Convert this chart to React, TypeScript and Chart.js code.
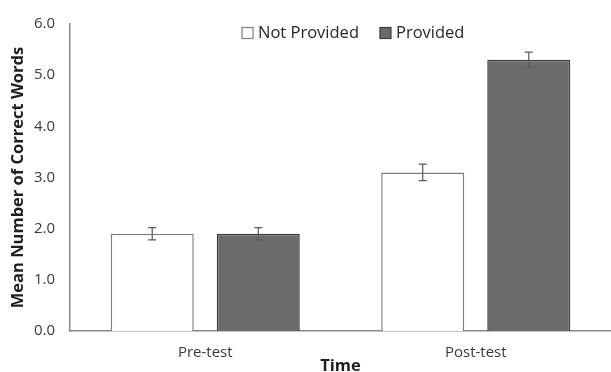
import React, { useEffect, useRef } from "react";
import { Chart, registerables } from "chart.js";

Chart.register(...registerables);

const categories = ["Pre-test", "Post-test"];
const seriesNames = ["Not Provided", "Provided"];
const notProvided = [1.9, 3.1];
const provided = [1.9, 5.3];
const notProvidedErr = [0.12, 0.16];
const providedErr = [0.12, 0.15];
const yTicks = [0, 1, 2, 3, 4, 5, 6];

const FONT = "'Open Sans', 'Noto Sans', sans-serif";

const errorBarPlugin = {
  id: "errorBars",
  afterDatasetsDraw(chart: any) {
    const ctx = chart.ctx;
    const y = chart.scales.y;
    const errs = [notProvidedErr, providedErr];
    ctx.save();
    ctx.strokeStyle = "#595959";
    ctx.lineWidth = 1.2;
    chart.data.datasets.forEach((ds: any, di: number) => {
      const meta = chart.getDatasetMeta(di);
      meta.data.forEach((el: any, i: number) => {
        const v = ds.data[i];
        const e = errs[di][i];
        const yt = y.getPixelForValue(v + e);
        const yb = y.getPixelForValue(v - e);
        const x = el.x;
        ctx.beginPath();
        ctx.moveTo(x, yt);
        ctx.lineTo(x, yb);
        ctx.moveTo(x - 4, yt);
        ctx.lineTo(x + 4, yt);
        ctx.moveTo(x - 4, yb);
        ctx.lineTo(x + 4, yb);
        ctx.stroke();
      });
    });
    ctx.restore();
  },
};

const legendPlugin = {
  id: "customLegend",
  afterDraw(chart: any) {
    const ctx = chart.ctx;
    const ds = chart.data.datasets;
    ctx.save();
    ctx.font = `16.5px ${FONT}`;
    ctx.textBaseline = "middle";
    let x = 242;
    const yc = 33;
    ds.forEach((d: any) => {
      ctx.fillStyle = d.backgroundColor;
      ctx.strokeStyle = d.borderColor;
      ctx.lineWidth = 1.2;
      ctx.fillRect(x, yc - 5.5, 11, 11);
      ctx.strokeRect(x, yc - 5.5, 11, 11);
      ctx.fillStyle = "#262626";
      ctx.textAlign = "left";
      ctx.fillText(d.label, x + 16, yc + 0.5);
      const w = ctx.measureText(d.label).width;
      x += 16 + w + 21;
    });
    ctx.restore();
  },
};

export default function App() {
  const ref = useRef<HTMLCanvasElement>(null);
  useEffect(() => {
    if (!ref.current) return;
    const chart = new Chart(ref.current, {
      type: "bar",
      data: {
        labels: categories,
        datasets: [
          {
            label: seriesNames[0],
            data: notProvided,
            backgroundColor: "#ffffff",
            borderColor: "#7f7f7f",
            borderWidth: 1.5,
            categoryPercentage: 0.784,
            barPercentage: 0.783,
          },
          {
            label: seriesNames[1],
            data: provided,
            backgroundColor: "#6b6b6b",
            borderColor: "#3c3c3c",
            borderWidth: 1.5,
            categoryPercentage: 0.784,
            barPercentage: 0.783,
          },
        ],
      },
      options: {
        animation: false,
        responsive: true,
        maintainAspectRatio: false,
        layout: { padding: { top: 20, right: 0, left: 0, bottom: 0 } },
        plugins: {
          legend: { display: false },
          tooltip: { enabled: false },
        },
        scales: {
          x: {
            grid: { display: false, drawTicks: false },
            border: { display: true, color: "#8a8a8a", width: 1.5 },
            ticks: {
              color: "#3a3a3a",
              padding: 13,
              font: { family: FONT, size: 15 },
            },
            title: {
              display: true,
              text: "Time",
              color: "#1f1f1f",
              font: { family: FONT, size: 16.5, weight: "bold" },
              padding: { top: 0, bottom: -4 },
            },
            afterFit(scale: any) {
              scale.height = 41;
            },
          },
          y: {
            min: 0,
            max: 6,
            afterBuildTicks(scale: any) {
              scale.ticks = yTicks.map((v) => ({ value: v }));
            },
            grid: { display: false, drawTicks: false },
            border: { display: true, color: "#8a8a8a", width: 1.5 },
            ticks: {
              color: "#3a3a3a",
              padding: 15,
              font: { family: FONT, size: 15 },
              callback: (v: any) => Number(v).toFixed(1),
            },
            title: {
              display: true,
              text: "Mean Number of Correct Words",
              color: "#1f1f1f",
              font: { family: FONT, size: 16.5, weight: "bold" },
              padding: { top: 8, bottom: 0 },
            },
            afterFit(scale: any) {
              scale.width = 70;
            },
          },
        },
      },
      plugins: [errorBarPlugin, legendPlugin],
    });
    return () => chart.destroy();
  }, []);
  return (
    <div
      style={{
        position: "fixed",
        left: 0,
        top: 0,
        width: 611,
        height: 372,
        background: "#ffffff",
      }}
    >
      <canvas ref={ref} />
    </div>
  );
}
